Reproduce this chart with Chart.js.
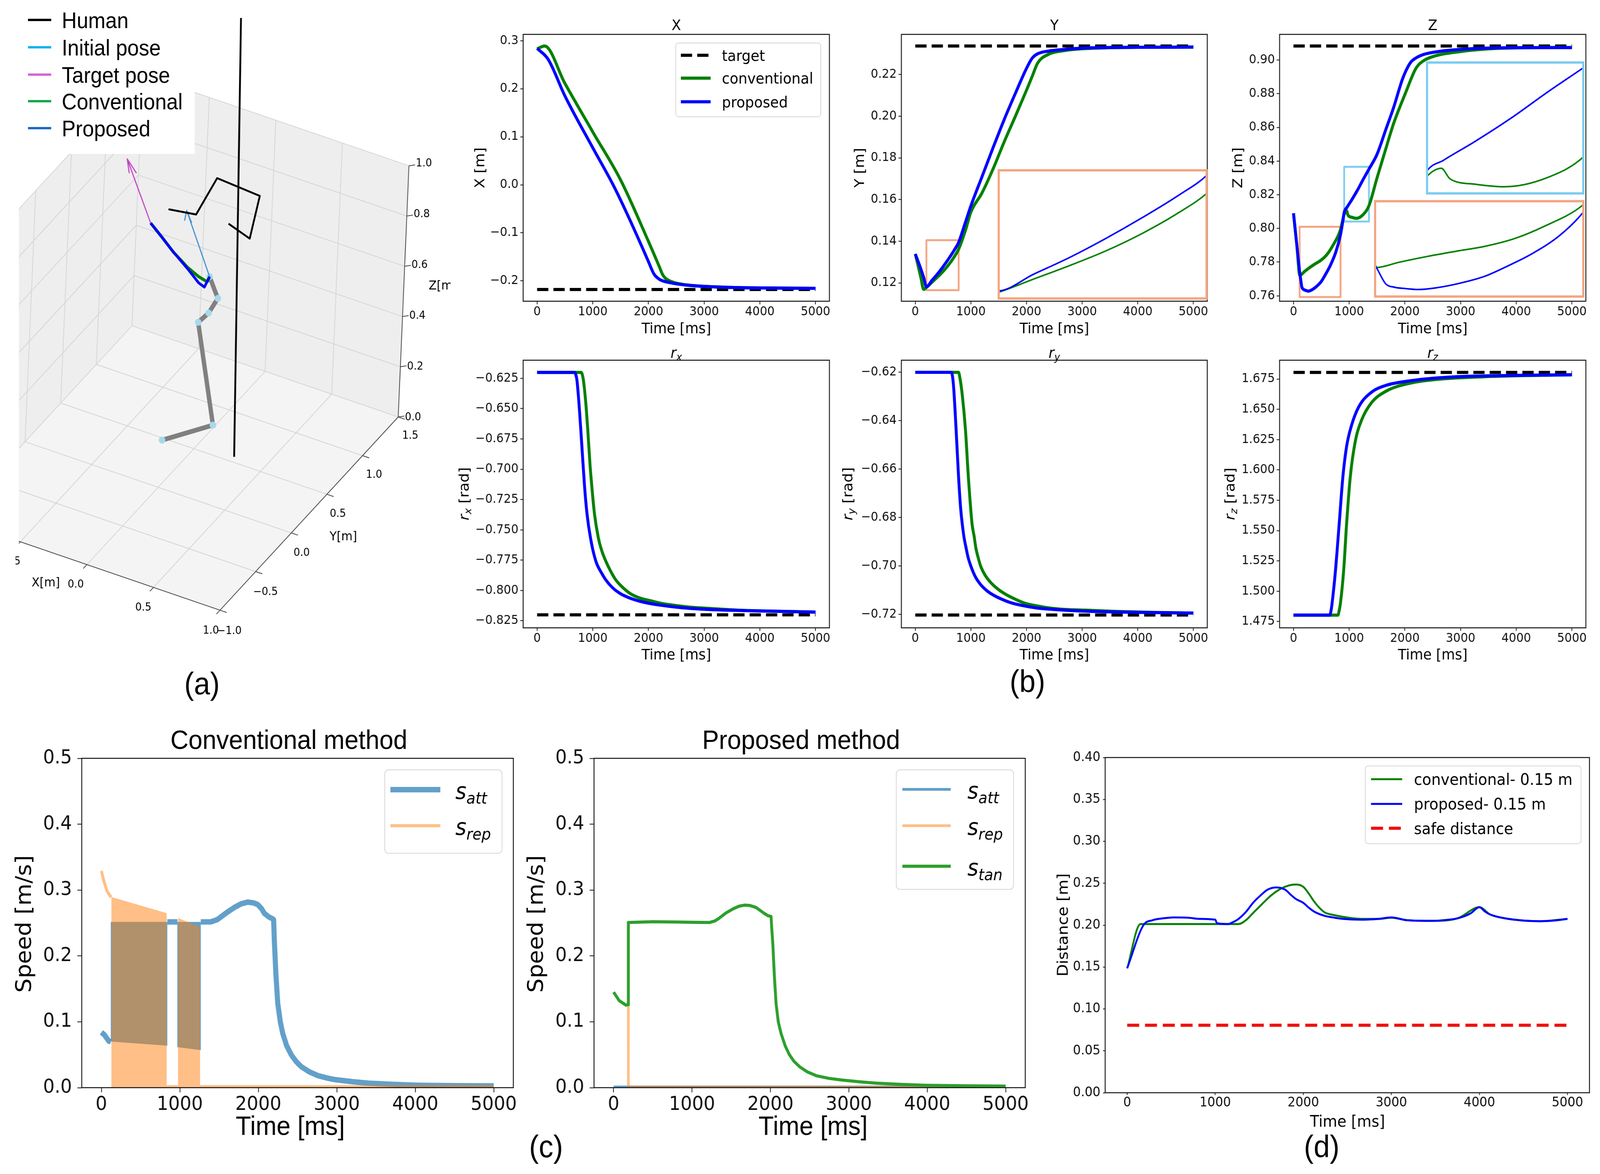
<!DOCTYPE html>
<html>
<head>
<meta charset="utf-8">
<script src="https://cdn.jsdelivr.net/npm/chart.js@4.4.1/dist/chart.umd.min.js"></script>
<style>
  html, body { margin: 0; padding: 0; background: #fff; overflow: hidden; }
  #fig { position: relative; width: 4404px; height: 3005px; overflow: hidden; background: #fff; transform-origin: 0 0; }
  #fig canvas { position: absolute; }
  .tag { position: absolute; font-family: 'Liberation Sans', Arial, sans-serif; font-size: 80px; color: #000;
         transform: translate(-50%, -50%); white-space: nowrap; }
</style>
</head>
<body>
<div id="fig">
  <div class="tag" style="left:556px;top:1750px">(a)</div>
  <div class="tag" style="left:2828px;top:1744px">(b)</div>
  <div class="tag" style="left:1503px;top:2935px">(c)</div>
  <div class="tag" style="left:3638px;top:2935px">(d)</div>
</div>
<script>
// ---------- data: (b) pose of the end effector ----------
const tTicks = [0, 1000, 2000, 3000, 4000, 5000];
const tSpan = [0, 5000];

const xTConv = [0, 135, 500, 1000, 1500, 2000, 2200, 2250, 2300, 2400, 2600, 3000, 3500, 4000, 5000];
const xConv  = [0.283, 0.289, 0.211, 0.110, 0.010, -0.118, -0.172, -0.186, -0.194, -0.201, -0.207, -0.2115, -0.2137, -0.2147, -0.2155];
const xTProp = [0, 200, 500, 1000, 1400, 2000, 2050, 2100, 2200, 2400, 2700, 3000, 3500, 4000, 5000];
const xProp  = [0.284, 0.261, 0.185, 0.077, -0.008, -0.160, -0.174, -0.186, -0.197, -0.204, -0.209, -0.2115, -0.2137, -0.2147, -0.2155];
const xTarget = -0.218;
const xTicksY = [-0.2, -0.1, 0.0, 0.1, 0.2, 0.3];

const yT    = [0, 100, 150, 200, 300, 400, 500, 600, 700, 780, 900, 1000, 1200, 1400, 1600, 1800, 2000, 2100, 2200, 2400, 2700, 3000, 3500, 4000, 5000];
const yProp = [0.1339, 0.1267, 0.1227, 0.1181, 0.1212, 0.1243, 0.1278, 0.1316, 0.1357, 0.1395, 0.1490, 0.1570, 0.1710, 0.1850, 0.1985, 0.2110, 0.2230, 0.2278, 0.2300, 0.2313, 0.2321, 0.2327, 0.2330, 0.2331, 0.2332];
const yConv = [0.1339, 0.1226, 0.1169, 0.1178, 0.1203, 0.1228, 0.1255, 0.1287, 0.1325, 0.1362, 0.1450, 0.1540, 0.1632, 0.1748, 0.1878, 0.2000, 0.2125, 0.2190, 0.2255, 0.2298, 0.2316, 0.2324, 0.2329, 0.2331, 0.2332];
const yTarget = 0.2337;
const yTicksY = [0.12, 0.14, 0.16, 0.18, 0.20, 0.22];
const yZoomT = [200, 780];
const yZoomV = [0.1165, 0.1405];

const zTProp = [0, 60, 113, 130, 151, 180, 220, 264, 320, 400, 496, 580, 668, 760, 841, 880, 910, 960, 1043, 1150, 1250, 1355, 1500, 1664, 1800, 1950, 2019, 2107, 2200, 2329, 2500, 2773, 3000, 3438, 4000, 5000];
const zProp  = [0.809, 0.790, 0.7737, 0.7695, 0.7652, 0.7638, 0.7632, 0.7628, 0.7634, 0.7652, 0.7684, 0.7730, 0.7785, 0.7860, 0.7958, 0.8030, 0.8095, 0.8125, 0.8168, 0.8228, 0.8290, 0.8352, 0.8440, 0.8593, 0.8720, 0.8880, 0.8936, 0.8987, 0.9012, 0.9032, 0.9045, 0.9057, 0.9063, 0.9070, 0.9073, 0.9074];
const zTConv = [0, 60, 113, 200, 300, 400, 496, 600, 700, 841, 910, 953, 978, 1050, 1130, 1250, 1355, 1500, 1664, 1800, 2019, 2196, 2329, 2551, 2995, 3500, 4000, 5000];
const zConv  = [0.809, 0.790, 0.7721, 0.7745, 0.7770, 0.7792, 0.7812, 0.7845, 0.7895, 0.7990, 0.8083, 0.8105, 0.8079, 0.8066, 0.8060, 0.8082, 0.8135, 0.8300, 0.8480, 0.8625, 0.8810, 0.8949, 0.8994, 0.9025, 0.9050, 0.9066, 0.9072, 0.9074];
const zTarget = 0.9083;
const zTicksY = [0.76, 0.78, 0.80, 0.82, 0.84, 0.86, 0.88, 0.90];
const zZoomAT = [910, 1355];
const zZoomAV = [0.8041, 0.8366];
const zZoomBT = [110, 845];
const zZoomBV = [0.7593, 0.801];

const rxTProp = [0, 673, 695, 717, 762, 807, 852, 897, 964, 1054, 1150, 1233, 1350, 1502, 1650, 1816, 2000, 2264, 2600, 2937, 3400, 3834, 4400, 5000];
const rxProp  = [-0.6202, -0.6202, -0.6220, -0.6270, -0.6520, -0.6830, -0.7140, -0.7370, -0.7580, -0.7757, -0.7850, -0.7912, -0.7975, -0.8028, -0.8060, -0.8085, -0.8105, -0.8124, -0.8142, -0.8153, -0.8162, -0.8167, -0.8173, -0.8178];
const rxTConv = [0, 794, 812, 830, 870, 910, 950, 990, 1031, 1099, 1160, 1233, 1320, 1412, 1550, 1682, 1850, 2040, 2250, 2489, 2800, 3161, 3600, 4200, 5000];
const rxConv  = [-0.6202, -0.6202, -0.6220, -0.6260, -0.6430, -0.6675, -0.6960, -0.7180, -0.7370, -0.7564, -0.7670, -0.7757, -0.7840, -0.7912, -0.7980, -0.8028, -0.8063, -0.8085, -0.8108, -0.8124, -0.8140, -0.8150, -0.8162, -0.8170, -0.8178];
const rxTarget = -0.8201;
const rxTicksY = [-0.825, -0.8, -0.775, -0.75, -0.725, -0.7, -0.675, -0.65, -0.625];

const ryTProp = [0, 646, 668, 690, 734, 778, 815, 844, 875, 910, 950, 998, 1080, 1174, 1300, 1438, 1600, 1746, 2000, 2186, 2500, 2846, 3300, 3725, 4300, 5000];
const ryProp  = [-0.6200, -0.6200, -0.6215, -0.6263, -0.6437, -0.6631, -0.6760, -0.6825, -0.6880, -0.6922, -0.6965, -0.7000, -0.7045, -0.7077, -0.7105, -0.7125, -0.7142, -0.7154, -0.7167, -0.7174, -0.7180, -0.7185, -0.7189, -0.7191, -0.7193, -0.7195];
const ryTConv = [0, 778, 800, 844, 902, 954, 1020, 1060, 1086, 1130, 1174, 1260, 1350, 1480, 1614, 1800, 1966, 2200, 2406, 2700, 3065, 3600, 4200, 5000];
const ryConv  = [-0.6200, -0.6200, -0.6220, -0.6292, -0.6437, -0.6631, -0.6825, -0.6880, -0.6922, -0.6965, -0.7000, -0.7040, -0.7067, -0.7095, -0.7116, -0.7138, -0.7154, -0.7166, -0.7174, -0.7180, -0.7183, -0.7188, -0.7192, -0.7195];
const ryTarget = -0.7203;
const ryTicksY = [-0.72, -0.70, -0.68, -0.66, -0.64, -0.62];

const rzTProp = [0, 652, 670, 688, 754, 821, 887, 954, 1043, 1176, 1398, 1664, 2107, 2773, 3882, 5000];
const rzProp  = [1.4803, 1.4803, 1.4830, 1.4882, 1.5172, 1.5558, 1.5944, 1.6195, 1.6369, 1.6524, 1.6640, 1.6698, 1.6736, 1.6765, 1.6779, 1.6785];
const rzTConv = [0, 799, 820, 843, 901, 954, 1020, 1109, 1220, 1398, 1664, 2107, 2551, 3438, 5000];
const rzConv  = [1.4803, 1.4803, 1.4840, 1.4901, 1.5172, 1.5558, 1.5944, 1.6234, 1.6408, 1.6553, 1.6650, 1.6717, 1.6746, 1.6769, 1.6785];
const rzTarget = 1.6804;
const rzTicksY = [1.475, 1.5, 1.525, 1.55, 1.575, 1.6, 1.625, 1.65, 1.675];

// ---------- data: (c) speed components ----------
const speedTicks = [0.0, 0.1, 0.2, 0.3, 0.4, 0.5];
const cAttT = [0, 40, 94, 120, 121, 840, 968, 969, 1267, 1400, 1480, 1600, 1694, 1780, 1864, 1940, 1992, 2040, 2078, 2130, 2184, 2195, 2205, 2225, 2248, 2280, 2312, 2360, 2419, 2480, 2547, 2650, 2760, 2870, 2973, 3200, 3400, 3700, 4040, 4500, 5000];
const cAtt  = [0.0840, 0.0800, 0.0707, 0.0700, null, 0.2516, 0.2516, null, 0.2516, 0.2518, 0.2553, 0.2660, 0.2735, 0.2790, 0.2817, 0.2805, 0.2780, 0.2720, 0.2644, 0.2595, 0.2562, 0.2550, 0.2200, 0.1700, 0.1276, 0.1000, 0.0820, 0.0640, 0.0500, 0.0400, 0.0319, 0.0240, 0.0182, 0.0148, 0.0123, 0.0090, 0.0068, 0.0050, 0.0036, 0.0030, 0.0027];
// envelopes of the fast oscillation (outline of the shaded blocks)
const cAttBand1T = [120, 840, 840, 120, 120];
const cAttBand1  = [0.2516, 0.2516, 0.0638, 0.0700, 0.2516];
const cAttBand2T = [968, 1267, 1267, 968, 968];
const cAttBand2  = [0.2516, 0.2516, 0.0570, 0.0615, 0.2516];
const cRepT = [0, 30, 72, 107, 128, 129, 832, 975, 976, 1258, 5000];
const cRep  = [0.329, 0.3145, 0.2985, 0.2917, 0.2894, null, 0.0015, 0.0015, null, 0.0015, 0.0015];
const cRepBand1T = [128, 832, 832, 128, 128];
const cRepBand1  = [0.2894, 0.2650, 0, 0, 0.2894];
const cRepBand2T = [977, 1258, 1258, 977, 977];
const cRepBand2  = [0.2575, 0.2439, 0, 0, 0.2575];

const pTanT = [0, 72, 157, 179, 186, 188, 500, 800, 1000, 1221, 1290, 1349, 1430, 1519, 1600, 1668, 1740, 1817, 1870, 1923, 1970, 2008, 2015, 2030, 2050, 2072, 2100, 2136, 2190, 2242, 2300, 2370, 2470, 2583, 2750, 2923, 3150, 3349, 3650, 3987, 4500, 5000];
const pTan  = [0.1450, 0.1320, 0.1253, 0.1260, 0.1260, 0.2507, 0.2520, 0.2515, 0.2510, 0.2507, 0.2530, 0.2575, 0.2650, 0.2712, 0.2755, 0.2771, 0.2765, 0.2735, 0.2690, 0.2644, 0.2610, 0.2598, 0.2450, 0.2188, 0.1700, 0.1276, 0.1000, 0.0820, 0.0630, 0.0500, 0.0400, 0.0320, 0.0240, 0.0182, 0.0140, 0.0114, 0.0088, 0.0068, 0.0050, 0.0036, 0.0028, 0.0023];
const pAttT = [0, 5000];
const pAtt  = [0.001, 0.001];
const pRepT = [187, 188, 5000];
const pRep  = [0.1253, 0.001, 0.001];

// ---------- data: (d) distance to the human ----------
const distTicks = [0.00, 0.05, 0.10, 0.15, 0.20, 0.25, 0.30, 0.35, 0.40];
const dTConv = [0, 151, 400, 800, 1265, 1350, 1429, 1530, 1633, 1737, 1837, 1918, 2000, 2060, 2122, 2180, 2245, 2350, 2449, 2653, 2857, 3000, 3184, 3469, 3755, 4000, 4122, 4286, 4694, 5000];
const dConv  = [0.1485, 0.2013, 0.2013, 0.2013, 0.2013, 0.2060, 0.2144, 0.2250, 0.2353, 0.2430, 0.2474, 0.2485, 0.2457, 0.2380, 0.2283, 0.2210, 0.2151, 0.2120, 0.2099, 0.2075, 0.2075, 0.2089, 0.2058, 0.2051, 0.2082, 0.2214, 0.2127, 0.2082, 0.2047, 0.2075];
const dTProp = [0, 184, 286, 400, 531, 700, 816, 1000, 1020, 1143, 1200, 1265, 1350, 1429, 1510, 1592, 1694, 1796, 1860, 1918, 2000, 2060, 2122, 2245, 2350, 2449, 2653, 2857, 3000, 3184, 3469, 3600, 3755, 3900, 4000, 4060, 4122, 4286, 4500, 4694, 4850, 5000];
const dProp  = [0.1485, 0.1999, 0.2058, 0.2080, 0.2092, 0.2088, 0.2075, 0.2065, 0.2023, 0.2013, 0.2035, 0.2075, 0.2160, 0.2266, 0.2350, 0.2422, 0.2450, 0.2422, 0.2360, 0.2311, 0.2266, 0.2210, 0.2162, 0.2110, 0.2090, 0.2075, 0.2065, 0.2075, 0.2092, 0.2058, 0.2051, 0.2060, 0.2082, 0.2140, 0.2214, 0.2165, 0.2127, 0.2082, 0.2055, 0.2047, 0.2055, 0.2075];
const dSafe = 0.0805;

// ---------- data: (a) 3D scene, metres [x, y, z] ----------
const box3 = { x: [-1, 1], y: [-1, 1.5], z: [0, 1] };
const ticks3X = [-0.5, 0.0, 0.5, 1.0];
const ticks3Y = [-1.0, -0.5, 0.0, 0.5, 1.0, 1.5];
const ticks3Z = [0.0, 0.2, 0.4, 0.6, 0.8, 1.0];
const grid3X = [-1, -0.5, 0, 0.5, 1];
const humanPole = [[0.273, 0.556, 0], [0.205, 0.516, 1.747]];
const humanArm = [[-0.333, 0.639, 0.85], [-0.148, 0.680, 0.85], [-0.093, 0.858, 0.95], [0.181, 0.952, 0.9], [0.222, 0.749, 0.8], [0.086, 0.699, 0.85]];
const robotJoints = [[-0.226, 0.477, 0], [-0.015, 0.796, 0], [-0.136, 0.755, 0.4], [-0.062, 0.756, 0.45], [-0.024, 0.806, 0.5], [-0.084, 0.791, 0.58]];
const pathProp = [[-0.084, 0.791, 0.58], [-0.084, 0.721, 0.56], [-0.126, 0.718, 0.57], [-0.203, 0.696, 0.62], [-0.295, 0.661, 0.68], [-0.361, 0.617, 0.74], [-0.426, 0.569, 0.80]];
const pathConv = [[-0.084, 0.791, 0.58], [-0.071, 0.733, 0.58], [-0.133, 0.729, 0.59], [-0.203, 0.696, 0.625], [-0.295, 0.661, 0.68], [-0.361, 0.617, 0.74], [-0.426, 0.569, 0.80]];
const arrowTarget = [[-0.426, 0.569, 0.80], [-0.582, 0.494, 1.05], null, [-0.558, 0.486, 1.0], [-0.582, 0.494, 1.05], [-0.517, 0.510, 1.0]];
const arrowInitial = [[-0.084, 0.791, 0.58], [-0.248, 0.738, 0.83], null, [-0.244, 0.706, 0.8], [-0.248, 0.738, 0.83], [-0.191, 0.707, 0.8]];

// ---------- styles ----------
const DV = "'DejaVu Sans', sans-serif";
const LS = "'Liberation Sans', Arial, sans-serif";
const GREEN = '#008000', BLUE = '#0000ff';
const BLUE_A = 'rgba(31,119,180,0.7)', ORANGE_A = 'rgba(255,127,14,0.5)', TAN = '#2ca02c';
const BOX_ORANGE = '#f4a683', BOX_CYAN = '#7dcdf0', NONE = 'rgba(0,0,0,0)';
const X_RANGE = [-250, 5250];

const fig = document.getElementById('fig');
// stretch the 4404 x 3005 figure over the actual viewport
const FITX = window.innerWidth / 4404, FITY = window.innerHeight / 3005;
if (FITX > 0 && FITY > 0 && (Math.abs(FITX - 1) > 0.002 || Math.abs(FITY - 1) > 0.002)) {
  fig.style.transform = 'scale(' + FITX + ',' + FITY + ')';
}

const pts = (t, v) => t.map((x, i) => ({ x: x, y: v[i] }));
const rect = (t, v) => pts([t[0], t[1], t[1], t[0], t[0]], [v[0], v[0], v[1], v[1], v[0]]);
const fmt = (v, d) => (v < -1e-9 ? '\u2212' : '') + Math.abs(v).toFixed(d);

function ln(label, data, color, width, more) {
  return Object.assign({ label: label, data: data, borderColor: color, backgroundColor: color, borderWidth: width,
    pointRadius: 0, pointHoverRadius: 0, fill: false, tension: 0, spanGaps: false,
    borderCapStyle: 'butt', borderJoinStyle: 'round' }, more || {});
}

// text with $..$ math runs: italic glyphs, _x / _{xy} subscripts
function parseRich(str) {
  const out = [];
  str.split('$').forEach((seg, k) => {
    if (!seg) return;
    if (k % 2 === 0) { out.push({ t: seg, it: false, sub: false }); return; }
    for (let i = 0; i < seg.length;) {
      if (seg[i] === '_') {
        let s;
        if (seg[i + 1] === '{') { const j = seg.indexOf('}', i); s = seg.slice(i + 2, j); i = j + 1; }
        else { s = seg[i + 1]; i += 2; }
        out.push({ t: s, it: true, sub: true });
      } else { out.push({ t: seg[i], it: true, sub: false }); i++; }
    }
  });
  return out;
}

function drawRich(ctx, str, x, y, size, family, align, rot) {
  const runs = parseRich(str);
  const fontOf = r => (r.it ? 'italic ' : '') + (r.sub ? size * 0.7 : size) + 'px ' + family;
  let w = 0;
  runs.forEach(r => { ctx.font = fontOf(r); r.w = ctx.measureText(r.t).width; w += r.w; });
  ctx.save();
  ctx.translate(x, y);
  if (rot) ctx.rotate(rot);
  ctx.fillStyle = '#000';
  ctx.textAlign = 'left';
  ctx.textBaseline = 'alphabetic';
  let cx = align === 'center' ? -w / 2 : (align === 'right' ? -w : 0);
  const base = size * 0.36;
  runs.forEach(r => { ctx.font = fontOf(r); ctx.fillText(r.t, cx, base + (r.sub ? size * 0.2 : 0)); cx += r.w; });
  ctx.restore();
}

function drawLegend(chart, L, ox, oy) {
  const ctx = chart.ctx;
  ctx.save();
  const [l, t, r, b] = L.box;
  ctx.beginPath();
  if (ctx.roundRect) ctx.roundRect(l - ox, t - oy, r - l, b - t, L.radius || 0);
  else ctx.rect(l - ox, t - oy, r - l, b - t);
  ctx.fillStyle = L.fill || '#fff';
  ctx.fill();
  if (L.edge) { ctx.lineWidth = 2; ctx.strokeStyle = L.edge; ctx.stroke(); }
  L.items.forEach((it, k) => {
    const ds = it.ds !== undefined ? chart.data.datasets[it.ds] : {};
    const y = L.rows[k] - oy;
    ctx.beginPath();
    ctx.strokeStyle = it.color || ds.borderColor;
    ctx.lineWidth = it.lw || ds.borderWidth;
    ctx.lineCap = 'butt';
    ctx.setLineDash(it.dash || ds.borderDash || []);
    ctx.moveTo(L.x0 - ox, y);
    ctx.lineTo(L.x1 - ox, y);
    ctx.stroke();
    ctx.setLineDash([]);
    drawRich(ctx, it.label || ds.label, L.tx - ox, y + (L.dy || 0), L.size, L.family, 'left', 0);
  });
  ctx.restore();
}

// frame, free text and in-axes legend
function decor(d) {
  return {
    id: 'decor',
    afterDatasetsDraw(chart) {
      if (!d.frame) return;
      const ctx = chart.ctx, a = chart.chartArea, f = d.frame, h = f.inset ? f.width / 2 : 0;
      ctx.save();
      ctx.strokeStyle = f.color;
      ctx.lineWidth = f.width;
      ctx.setLineDash([]);
      ctx.strokeRect(a.left + h, a.top + h, a.right - a.left - 2 * h, a.bottom - a.top - 2 * h);
      ctx.restore();
    },
    afterDraw(chart) {
      const ctx = chart.ctx;
      (d.texts || []).forEach(t => drawRich(ctx, t.s, t.x - d.ox, t.y - d.oy, t.size, t.family, t.align || 'center', t.rot || 0));
      if (d.legend) drawLegend(chart, d.legend, d.ox, d.oy);
    }
  };
}

function addCanvas(l, t, w, h, bg) {
  const c = document.createElement('canvas');
  c.width = Math.round(w); c.height = Math.round(h);
  c.style.left = Math.round(l) + 'px'; c.style.top = Math.round(t) + 'px';
  c.style.width = Math.round(w) + 'px'; c.style.height = Math.round(h) + 'px';
  if (bg) c.style.background = bg;
  fig.appendChild(c);
  return c;
}

function axisOpts(range, tk, ticks, dec, fit) {
  return {
    type: 'linear', min: range[0], max: range[1],
    grid: { display: true, drawOnChartArea: false, drawTicks: true, tickLength: tk.len, tickColor: '#111', tickWidth: 2 },
    border: { display: false },
    afterFit: fit,
    afterBuildTicks: s => { s.ticks = ticks.map(v => ({ value: v })); },
    ticks: { font: { family: tk.family, size: tk.size }, color: '#111', autoSkip: false, maxRotation: 0, minRotation: 0,
      callback: v => fmt(v, dec) }
  };
}

function axisChart(P) {
  const [bl, bt, br, bb] = P.box, pd = P.pad;
  const ox = Math.round(bl) - pd.l, oy = Math.round(bt) - pd.t;
  const w = Math.round(br - bl) + pd.l + pd.r, h = Math.round(bb - bt) + pd.t + pd.b;
  const cv = addCanvas(ox, oy, w, h);
  const x = axisOpts(X_RANGE, P.tick, tTicks, 0, s => { s.height = pd.b; });
  x.ticks.padding = P.tick.xGap;
  const y = axisOpts(P.y, P.tick, P.yt, P.yd, s => { s.width = pd.l; });
  y.ticks.padding = P.tick.yGap;
  return new Chart(cv, {
    type: 'line',
    data: { datasets: P.datasets },
    options: {
      responsive: false, animation: false, devicePixelRatio: 1, events: [],
      layout: { padding: { left: 0, right: pd.r, top: pd.t, bottom: 0 } },
      plugins: { legend: { display: false }, tooltip: { enabled: false }, title: { display: false } },
      scales: { x: x, y: y }
    },
    plugins: [decor({ ox: ox, oy: oy, frame: { color: '#111', width: 2.5 }, texts: P.texts, legend: P.legend })]
  });
}

function insetChart(P) {
  const [l, t, r, b] = P.box;
  const cv = addCanvas(l, t, r - l, b - t, '#fff');
  return new Chart(cv, {
    type: 'line',
    data: { datasets: P.datasets },
    options: {
      responsive: false, animation: false, devicePixelRatio: 1, events: [],
      layout: { padding: 0 },
      plugins: { legend: { display: false }, tooltip: { enabled: false } },
      scales: { x: { type: 'linear', display: false, min: P.x[0], max: P.x[1] },
                y: { type: 'linear', display: false, min: P.y[0], max: P.y[1] } }
    },
    plugins: [decor({ ox: Math.round(l), oy: Math.round(t), frame: { color: P.color, width: P.lw, inset: true } })]
  });
}

// ---------- (b) six pose panels ----------
const B_TICK = { size: 32, family: DV, len: 8, xGap: 0, yGap: 5 };
const B_PAD = { l: 200, r: 20, t: 70, b: 100 };
const SMOOTH = { cubicInterpolationMode: 'monotone' };

function poseChart(o) {
  const ds = [
    ln('proposed', pts(o.tp, o.vp), BLUE, 8, Object.assign({ order: 0 }, SMOOTH)),
    ln('conventional', pts(o.tc, o.vc), GREEN, 8, Object.assign({ order: 1 }, SMOOTH)),
    ln('target', pts(tSpan, [o.target, o.target]), '#000', 8, { order: 2, borderDash: [31, 14] })
  ];
  (o.zooms || []).forEach(z => ds.push(ln('', rect(z.t, z.v), z.color, 5, { order: 3 })));
  const cx = (o.box[0] + o.box[2]) / 2, cy = (o.box[1] + o.box[3]) / 2;
  axisChart({
    box: o.box, pad: B_PAD, y: o.y, yt: o.yt, yd: o.yd, tick: B_TICK, datasets: ds, legend: o.legend,
    texts: [
      { s: o.title, x: cx, y: o.titleY, size: 38, family: DV },
      { s: 'Time [ms]', x: cx, y: o.box[3] + 68, size: 38, family: DV },
      { s: o.ylab, x: o.ylx, y: cy, size: 38, family: DV, rot: -Math.PI / 2 }
    ]
  });
  (o.zooms || []).forEach(z => insetChart({
    box: z.box, x: z.t, y: z.v, color: z.color, lw: 6,
    datasets: [
      ln('proposed', pts(o.tp, o.vp), BLUE, 4, Object.assign({ order: 0 }, SMOOTH)),
      ln('conventional', pts(o.tc, o.vc), GREEN, 4, Object.assign({ order: 1 }, SMOOTH))
    ]
  }));
}

const ROW1 = [88, 771], ROW2 = [921.7, 1606.4];
const COLS = [[1440, 2283], [2481, 3323], [3522, 4365]];

poseChart({ box: [COLS[0][0], ROW1[0], COLS[0][1], ROW1[1]], y: [-0.2424, 0.3132], yt: xTicksY, yd: 1,
  tp: xTProp, vp: xProp, tc: xTConv, vc: xConv, target: xTarget, title: 'X', titleY: 63, ylab: 'X [m]', ylx: 1319,
  legend: { box: [1860, 110, 2259, 299], rows: [141.5, 200, 260.5], x0: 1874, x1: 1956, tx: 1987, size: 39, family: DV,
    fill: 'rgba(255,255,255,0.85)', edge: '#d6d6d6', radius: 8, items: [{ ds: 2 }, { ds: 1 }, { ds: 0 }] } });

poseChart({ box: [COLS[1][0], ROW1[0], COLS[1][1], ROW1[1]], y: [0.1112, 0.2393], yt: yTicksY, yd: 2,
  tp: yT, vp: yProp, tc: yT, vc: yConv, target: yTarget, title: 'Y', titleY: 63, ylab: 'Y [m]', ylx: 2364.5,
  zooms: [{ t: yZoomT, v: yZoomV, color: BOX_ORANGE, box: [2746, 433, 3324, 767] }] });

poseChart({ box: [COLS[2][0], ROW1[0], COLS[2][1], ROW1[1]], y: [0.7568, 0.9152], yt: zTicksY, yd: 2,
  tp: zTProp, vp: zProp, tc: zTConv, vc: zConv, target: zTarget, title: 'Z', titleY: 63, ylab: 'Z [m]', ylx: 3405,
  zooms: [{ t: zZoomAT, v: zZoomAV, color: BOX_CYAN, box: [3925, 157, 4361, 498] },
          { t: zZoomBT, v: zZoomBV, color: BOX_ORANGE, box: [3782, 512, 4361, 762] }] });

poseChart({ box: [COLS[0][0], ROW2[0], COLS[0][1], ROW2[1]], y: [-0.8308, -0.6101], yt: rxTicksY, yd: 3,
  tp: rxTProp, vp: rxProp, tc: rxTConv, vc: rxConv, target: rxTarget, title: '$r_x$', titleY: 902, ylab: '$r_x$ [rad]', ylx: 1276 });

poseChart({ box: [COLS[1][0], ROW2[0], COLS[1][1], ROW2[1]], y: [-0.7256, -0.6150], yt: ryTicksY, yd: 2,
  tp: ryTProp, vp: ryProp, tc: ryTConv, vc: ryConv, target: ryTarget, title: '$r_y$', titleY: 902, ylab: '$r_y$ [rad]', ylx: 2332 });

poseChart({ box: [COLS[2][0], ROW2[0], COLS[2][1], ROW2[1]], y: [1.4698, 1.6905], yt: rzTicksY, yd: 3,
  tp: rzTProp, vp: rzProp, tc: rzTConv, vc: rzConv, target: rzTarget, title: '$r_z$', titleY: 902, ylab: '$r_z$ [rad]', ylx: 3384 });

// ---------- (c) speed panels ----------
const C_TICK = { size: 50, family: DV, len: 12, xGap: 2, yGap: 15 };
const C_PAD = { l: 200, r: 40, t: 100, b: 140 };
const C_ROW = [1940.6, 2783.7];

axisChart({
  box: [225, C_ROW[0], 1412.5, C_ROW[1]], pad: C_PAD, y: [0, 0.5], yt: speedTicks, yd: 1, tick: C_TICK,
  datasets: [
    ln('', pts(cRepBand1T, cRepBand1), NONE, 1, { backgroundColor: ORANGE_A, fill: 'shape', order: 0 }),
    ln('', pts(cRepBand2T, cRepBand2), NONE, 1, { backgroundColor: ORANGE_A, fill: 'shape', order: 0 }),
    ln('$s_{rep}$', pts(cRepT, cRep), ORANGE_A, 8, { order: 1 }),
    ln('', pts(cAttBand1T, cAttBand1), NONE, 1, { backgroundColor: BLUE_A, fill: 'shape', order: 2 }),
    ln('', pts(cAttBand2T, cAttBand2), NONE, 1, { backgroundColor: BLUE_A, fill: 'shape', order: 2 }),
    ln('$s_{att}$', pts(cAttT, cAtt), BLUE_A, 14, { order: 3 })
  ],
  texts: [
    { s: 'Conventional method', x: 795, y: 1892, size: 69, family: LS },
    { s: 'Time [ms]', x: 799, y: 2880, size: 69, family: LS },
    { s: 'Speed [m/s]', x: 64, y: 2365, size: 58, family: DV, rot: -Math.PI / 2 }
  ],
  legend: { box: [1059, 1970.6, 1382, 2184], rows: [2021.3, 2113.5], x0: 1074.5, x1: 1212, tx: 1253.6, dy: 3, size: 58, family: DV,
    fill: 'rgba(255,255,255,0.85)', edge: '#d6d6d6', radius: 10, items: [{ ds: 5 }, { ds: 2 }] }
});

axisChart({
  box: [1635, C_ROW[0], 2821.7, C_ROW[1]], pad: C_PAD, y: [0, 0.5], yt: speedTicks, yd: 1, tick: C_TICK,
  datasets: [
    ln('$s_{tan}$', pts(pTanT, pTan), TAN, 8, { order: 0 }),
    ln('$s_{rep}$', pts(pRepT, pRep), ORANGE_A, 7, { order: 1 }),
    ln('$s_{att}$', pts(pAttT, pAtt), BLUE_A, 7, { order: 2 })
  ],
  texts: [
    { s: 'Proposed method', x: 2205, y: 1892, size: 69, family: LS },
    { s: 'Time [ms]', x: 2238, y: 2880, size: 69, family: LS },
    { s: 'Speed [m/s]', x: 1473.5, y: 2365, size: 58, family: DV, rot: -Math.PI / 2 }
  ],
  legend: { box: [2467, 1970.6, 2789.6, 2276.5], rows: [2020.6, 2113.5, 2217.3], x0: 2483.7, x1: 2616.9, tx: 2662.8, dy: 3, size: 58, family: DV,
    fill: 'rgba(255,255,255,0.85)', edge: '#d6d6d6', radius: 10, items: [{ ds: 2 }, { ds: 1 }, { ds: 0 }] }
});

// ---------- (d) distance panel ----------
axisChart({
  box: [3042, 1938.8, 4374.5, 2797], pad: { l: 150, r: 25, t: 40, b: 110 }, y: [0, 0.4], yt: distTicks, yd: 2,
  tick: { size: 34, family: DV, len: 6, xGap: 0, yGap: 7 },
  datasets: [
    ln('proposed- 0.15 m', pts(dTProp, dProp), BLUE, 5, Object.assign({ order: 0 }, SMOOTH)),
    ln('conventional- 0.15 m', pts(dTConv, dConv), GREEN, 5, Object.assign({ order: 1 }, SMOOTH)),
    ln('safe distance', pts(tSpan, [dSafe, dSafe]), '#ee1111', 8, { order: 2, borderDash: [33, 16] })
  ],
  texts: [
    { s: 'Time [ms]', x: 3709, y: 2869, size: 41, family: DV },
    { s: 'Distance [m]', x: 2924, y: 2367.5, size: 41, family: DV, rot: -Math.PI / 2 }
  ],
  legend: { box: [3758, 1960.4, 4351.8, 2159.5], rows: [1994.5, 2057.7, 2120], x0: 3773.8, x1: 3859.5, tx: 3892, size: 41, family: DV,
    fill: 'rgba(255,255,255,0.85)', edge: '#d6d6d6', radius: 8, items: [{ ds: 1 }, { ds: 0 }, { ds: 2 }] }
});

// ---------- (a) 3D scene, projected by a fixed view ----------
(function () {
  const VIEW = { o: [432.2, 1252], ex: [372, 118], ey: [199.2, -200], ez: [30, -650] };
  const proj = p => ({ x: VIEW.o[0] + p[0] * VIEW.ex[0] + p[1] * VIEW.ey[0] + p[2] * VIEW.ez[0],
                       y: VIEW.o[1] + p[0] * VIEW.ex[1] + p[1] * VIEW.ey[1] + p[2] * VIEW.ez[1] });
  const path = arr => arr.map(p => p ? proj(p) : { x: 0, y: null });
  const segs = list => { const out = []; list.forEach(s => { s.forEach(p => out.push(proj(p))); out.push({ x: 0, y: null }); }); return out; };
  const [x0, x1] = box3.x, [y0, y1] = box3.y, [z0, z1] = box3.z;

  const floor = [[x0, y0, z0], [x1, y0, z0], [x1, y1, z0], [x0, y1, z0], [x0, y0, z0]];
  const wallX = [[x0, y0, z0], [x0, y1, z0], [x0, y1, z1], [x0, y0, z1], [x0, y0, z0]];
  const wallY = [[x0, y1, z0], [x1, y1, z0], [x1, y1, z1], [x0, y1, z1], [x0, y1, z0]];
  const grid = [];
  grid3X.forEach(x => grid.push([[x, y0, z0], [x, y1, z0]], [[x, y1, z0], [x, y1, z1]]));
  ticks3Y.forEach(y => grid.push([[x0, y, z0], [x1, y, z0]], [[x0, y, z0], [x0, y, z1]]));
  ticks3Z.forEach(z => grid.push([[x0, y0, z], [x0, y1, z]], [[x0, y1, z], [x1, y1, z]]));
  const axes = [[[x0, y0, z0], [x1, y0, z0]], [[x1, y0, z0], [x1, y1, z0]], [[x1, y1, z0], [x1, y1, z1]]];
  ticks3X.forEach(x => axes.push([[x, y0, z0], [x, y0 - 0.05, z0]]));
  ticks3Y.forEach(y => axes.push([[x1, y, z0], [x1 + 0.05, y, z0]]));
  ticks3Z.forEach(z => axes.push([[x1, y1, z], [x1 + 0.03, y1 + 0.03, z]]));

  const texts = [];
  ticks3X.forEach(x => { const p = proj([x + 0.036, y0 - 0.19, z0]); texts.push({ s: fmt(x, 1), x: p.x, y: p.y, size: 28, family: DV }); });
  ticks3Y.forEach(y => { const p = proj([x1 + 0.14, y - 0.13, z0]); texts.push({ s: fmt(y, 1), x: p.x, y: p.y, size: 28, family: DV }); });
  ticks3Z.forEach(z => { const p = proj([x1 + 0.061, y1 + 0.056, z]); texts.push({ s: fmt(z, 1), x: p.x, y: p.y, size: 28, family: DV }); });
  texts.push({ s: 'X[m]', x: 126, y: 1489, size: 32, family: DV },
             { s: 'Y[m]', x: 945, y: 1371, size: 32, family: DV },
             { s: 'Z[m]', x: 1219, y: 729, size: 32, family: DV });

  const ox = 43, oy = 0, w = 1197, h = 1650;
  const cv = addCanvas(ox, oy, w, h);
  new Chart(cv, {
    type: 'line',
    data: { datasets: [
      ln('', path(floor), NONE, 1, { backgroundColor: '#f4f4f4', fill: 'shape', order: 12 }),
      ln('', path(wallX), NONE, 1, { backgroundColor: '#eeeeee', fill: 'shape', order: 11 }),
      ln('', path(wallY), NONE, 1, { backgroundColor: '#eeeeee', fill: 'shape', order: 11 }),
      ln('', segs(grid), '#d5d5d5', 2, { order: 9 }),
      ln('', segs(axes), '#444', 2, { order: 8 }),
      ln('', path(robotJoints), '#808080', 12, { order: 6 }),
      ln('', path(robotJoints), '#a8d8ec', 0, { showLine: false, pointRadius: 9, pointBackgroundColor: '#a8d8ec', pointBorderWidth: 0, order: 5 }),
      ln('Conventional', path(pathConv), GREEN, 8, { order: 4 }),
      ln('Proposed', path(pathProp), BLUE, 7, { order: 3 }),
      ln('Target pose', path(arrowTarget), '#c444c4', 3, { order: 2 }),
      ln('Initial pose', path(arrowInitial), '#3f8fcf', 3, { order: 2 }),
      ln('Human', path(humanArm), '#000', 5, { order: 1 }),
      ln('', path(humanPole), '#000', 5, { order: 0 })
    ] },
    options: {
      responsive: false, animation: false, devicePixelRatio: 1, events: [],
      layout: { padding: 0 },
      plugins: { legend: { display: false }, tooltip: { enabled: false } },
      scales: { x: { type: 'linear', display: false, min: ox, max: ox + w },
                y: { type: 'linear', display: false, min: oy, max: oy + h, reverse: true } }
    },
    plugins: [decor({ ox: ox, oy: oy, texts: texts,
      legend: { box: [43, 0, 536, 394], rows: [51, 121, 191, 259, 328], x0: 77, x1: 141, tx: 170, size: 57, family: LS, fill: '#fff',
        items: [{ label: 'Human', color: '#000', lw: 6 }, { label: 'Initial pose', color: '#14b2ee', lw: 6 },
                { label: 'Target pose', color: '#d466d4', lw: 6 }, { label: 'Conventional', color: '#14a84c', lw: 6 },
                { label: 'Proposed', color: '#1a6cc0', lw: 6 }] } })]
  });
})();
</script>
</body>
</html>
